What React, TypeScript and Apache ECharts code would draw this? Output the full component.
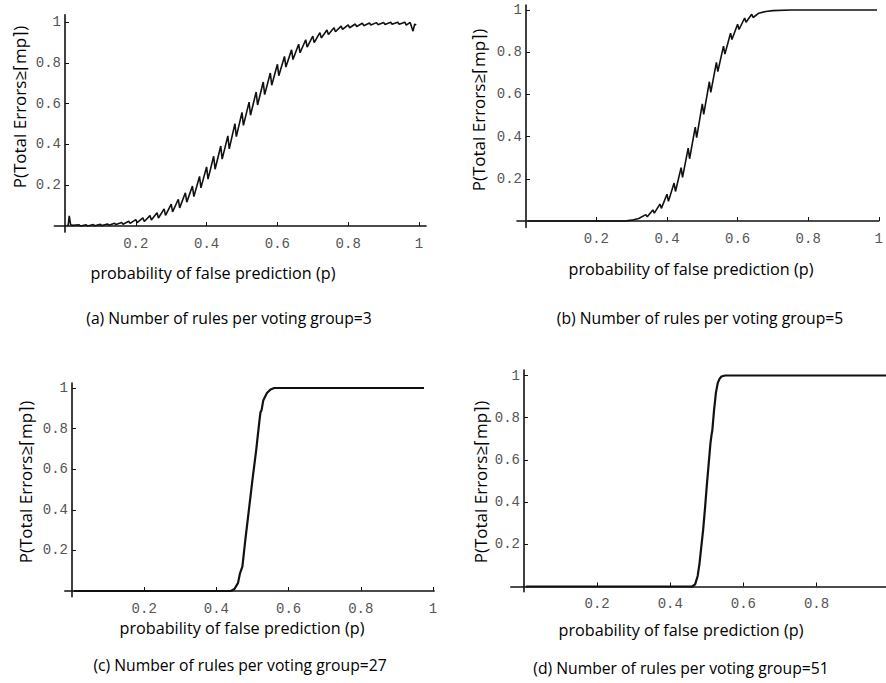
import React, { useEffect, useRef } from "react";
import * as echarts from "echarts";

// ---------- data ----------
const xTickLabels = [0.2, 0.4, 0.6, 0.8, 1];
const xTickLabelsD = [0.2, 0.4, 0.6, 0.8];
const yTickLabels = [0.2, 0.4, 0.6, 0.8, 1];

const yTitle = "P(Total Errors≥⌈mp⌉)";
const xTitle = "probability of false prediction (p)";
const captions = [
  "(a) Number of rules per voting group=3",
  "(b) Number of rules per voting group=5",
  "(c) Number of rules per voting group=27",
  "(d) Number of rules per voting group=51",
];

// (a) m = 3
const curveA: [number, number][] = [
  [0.005, 0.002], [0.009, 0.004], [0.012, 0.05], [0.016, 0.006], [0.022, 0.003],
  [0.04, 0.006], [0.044, 0.0], [0.06, 0.006], [0.064, 0.0],
  [0.08, 0.007], [0.084, 0.001], [0.1, 0.008], [0.104, 0.002],
  [0.12, 0.01], [0.124, 0.004], [0.14, 0.013], [0.144, 0.007],
  [0.16, 0.017], [0.164, 0.009], [0.18, 0.023], [0.184, 0.013],
  [0.2, 0.031], [0.204, 0.017], [0.22, 0.04], [0.224, 0.022],
  [0.24, 0.051], [0.244, 0.029], [0.26, 0.065], [0.264, 0.039],
  [0.28, 0.084], [0.284, 0.052], [0.3, 0.107], [0.304, 0.069],
  [0.32, 0.131], [0.324, 0.089], [0.34, 0.163], [0.344, 0.117],
  [0.36, 0.196], [0.364, 0.144], [0.38, 0.243], [0.384, 0.187],
  [0.4, 0.29], [0.404, 0.23], [0.42, 0.342], [0.424, 0.278],
  [0.44, 0.392], [0.444, 0.328], [0.46, 0.442], [0.464, 0.378],
  [0.48, 0.502], [0.484, 0.438], [0.5, 0.557], [0.504, 0.493],
  [0.52, 0.607], [0.524, 0.543], [0.54, 0.657], [0.544, 0.593],
  [0.56, 0.706], [0.564, 0.644], [0.58, 0.75], [0.584, 0.69],
  [0.6, 0.793], [0.604, 0.737], [0.62, 0.831], [0.624, 0.779],
  [0.64, 0.864], [0.644, 0.816], [0.66, 0.891], [0.664, 0.849],
  [0.68, 0.913], [0.684, 0.877], [0.7, 0.931], [0.704, 0.899],
  [0.72, 0.948], [0.724, 0.922], [0.74, 0.961], [0.744, 0.939],
  [0.76, 0.972], [0.764, 0.952], [0.78, 0.98], [0.784, 0.964],
  [0.8, 0.986], [0.804, 0.972], [0.82, 0.99], [0.824, 0.978],
  [0.84, 0.994], [0.844, 0.982], [0.86, 0.995], [0.864, 0.985],
  [0.88, 0.997], [0.884, 0.987], [0.9, 0.998], [0.904, 0.988],
  [0.92, 0.999], [0.924, 0.989], [0.94, 0.999], [0.944, 0.989],
  [0.96, 0.999], [0.964, 0.985], [0.975, 0.998], [0.983, 0.955],
  [0.988, 0.99], [0.992, 0.985],
];

// (b) m = 5
const curveB: [number, number][] = [
  [0.005, 0.0], [0.28, 0.0], [0.3, 0.004], [0.32, 0.012],
  [0.34, 0.03], [0.344, 0.02], [0.36, 0.0525], [0.364, 0.0375],
  [0.38, 0.08], [0.384, 0.06], [0.4, 0.127], [0.404, 0.093],
  [0.42, 0.18], [0.424, 0.14], [0.44, 0.253], [0.444, 0.207],
  [0.46, 0.345], [0.464, 0.295], [0.48, 0.445], [0.484, 0.395],
  [0.5, 0.555], [0.504, 0.505], [0.52, 0.66], [0.524, 0.61],
  [0.54, 0.752], [0.544, 0.708], [0.56, 0.829], [0.564, 0.791],
  [0.58, 0.89], [0.584, 0.86], [0.6, 0.9325], [0.604, 0.9075],
  [0.62, 0.962], [0.624, 0.942], [0.64, 0.9795], [0.644, 0.9645],
  [0.66, 0.985], [0.68, 0.993], [0.7, 0.997], [0.75, 1.0], [0.995, 1.0],
];

// (c) m = 27
const curveC: [number, number][] = [
  [0.005, 0.0], [0.44, 0.0], [0.45, 0.01], [0.46, 0.04], [0.465, 0.085],
  [0.468, 0.1], [0.472, 0.12], [0.48, 0.25], [0.49, 0.4], [0.5, 0.55],
  [0.51, 0.69], [0.518, 0.82], [0.522, 0.88], [0.525, 0.89], [0.53, 0.94],
  [0.54, 0.975], [0.55, 0.993], [0.56, 1.0], [0.975, 1.0],
];

// (d) m = 51
const curveD: [number, number][] = [
  [0.005, 0.0], [0.46, 0.0], [0.468, 0.01], [0.475, 0.05], [0.48, 0.11],
  [0.485, 0.19], [0.49, 0.27], [0.495, 0.37], [0.5, 0.48], [0.505, 0.58],
  [0.51, 0.68], [0.513, 0.72], [0.515, 0.74], [0.52, 0.84], [0.525, 0.92],
  [0.53, 0.965], [0.535, 0.985], [0.54, 0.995], [0.55, 1.0], [0.99, 1.0],
];

// ---------- layout (pixels) ----------
type Panel = {
  x0: number; sx: number; xmin: number; xmax: number;
  y0: number; sy: number; ymin: number; ymax: number;
  xLabels: number[]; data: [number, number][]; lw: number;
  yt: [number, number]; xt: [number, number]; cap: [number, number];
};

const panels: Panel[] = [
  { x0: 65, sx: 354, xmin: -0.03, xmax: 1.02, y0: 226, sy: 204, ymin: -0.03, ymax: 1.035,
    xLabels: xTickLabels, data: curveA, lw: 1.6, yt: [19, 107], xt: [213, 273], cap: [229, 318] },
  { x0: 526, sx: 361, xmin: -0.025, xmax: 1.0, y0: 221, sy: 211, ymin: -0.03, ymax: 1.024,
    xLabels: xTickLabels, data: curveB, lw: 1.6, yt: [478, 110], xt: [691, 269], cap: [700, 318] },
  { x0: 72, sx: 361, xmin: -0.02, xmax: 1.003, y0: 591, sy: 203, ymin: -0.028, ymax: 1.025,
    xLabels: xTickLabels, data: curveC, lw: 2.2, yt: [25, 482], xt: [242, 628], cap: [240, 665] },
  { x0: 524, sx: 366, xmin: -0.036, xmax: 0.99, y0: 586.5, sy: 211, ymin: -0.025, ymax: 1.026,
    xLabels: xTickLabelsD, data: curveD, lw: 2.2, yt: [480, 482], xt: [681, 630], cap: [681, 668] },
];

const MONO = "'Liberation Mono', 'DejaVu Sans Mono', monospace";
const SANS = "'Open Sans', Lato, 'Noto Sans', sans-serif";

export default function App() {
  const ref = useRef<HTMLDivElement>(null);
  useEffect(() => {
    if (!ref.current) return;
    const chart = echarts.init(ref.current, undefined, { renderer: "svg" });
    const lineStyle = { color: "#111", width: 1.6 };
    const grid = panels.map((p) => ({
      left: p.x0 + p.xmin * p.sx,
      top: p.y0 - p.ymax * p.sy,
      width: (p.xmax - p.xmin) * p.sx,
      height: (p.ymax - p.ymin) * p.sy,
      containLabel: false,
    }));
    const fmt = (v: number) => String(Math.round(v * 10) / 10);
    const xAxis = panels.map((p, i) => ({
      type: "value",
      gridIndex: i,
      min: p.xmin,
      max: p.xmax,
      axisLine: { show: true, onZero: true, lineStyle },
      splitLine: { show: false },
      axisTick: { show: true, inside: true, length: 4, customValues: p.xLabels, lineStyle: { color: "#111", width: 1 } },
      axisLabel: {
        show: true,
        customValues: p.xLabels,
        margin: 5,
        color: "#555",
        fontFamily: MONO,
        fontSize: 14,
        formatter: fmt,
      },
    }));
    const yAxis = panels.map((p, i) => ({
      type: "value",
      gridIndex: i,
      min: p.ymin,
      max: p.ymax,
      // place the y axis at x = 0 (inside the grid's left edge)
      offset: p.xmin * p.sx,
      axisLine: { show: true, onZero: false, lineStyle },
      splitLine: { show: false },
      axisTick: { show: true, inside: true, length: 4, customValues: yTickLabels, lineStyle: { color: "#111", width: 1 } },
      axisLabel: {
        show: true,
        customValues: yTickLabels,
        margin: 4,
        color: "#555",
        fontFamily: MONO,
        fontSize: 14,
        formatter: fmt,
      },
    }));
    const series = panels.map((p, i) => ({
      type: "line",
      xAxisIndex: i,
      yAxisIndex: i,
      data: p.data,
      showSymbol: false,
      symbol: "none",
      lineStyle: { color: "#111", width: p.lw },
      clip: true,
    }));
    const txt = (text: string, x: number, y: number, size: number, rot = 0) => ({
      type: "text",
      x,
      y,
      rotation: rot,
      style: {
        text, x: 0, y: 0, fill: "#000",
        font: `${size}px ${SANS}`,
        align: "center", verticalAlign: "middle",
        textAlign: "center", textVerticalAlign: "middle",
      },
    });
    const graphic: any[] = [];
    panels.forEach((p, i) => {
      graphic.push(txt(yTitle, p.yt[0], p.yt[1], 17, Math.PI / 2));
      graphic.push(txt(xTitle, p.xt[0], p.xt[1], 16.2));
      graphic.push(txt(captions[i], p.cap[0], p.cap[1], 15.7));
    });
    chart.setOption({
      animation: false,
      backgroundColor: "#fff",
      grid,
      xAxis,
      yAxis,
      series,
      graphic,
    } as any);
    return () => chart.dispose();
  }, []);
  return (
    <div
      ref={ref}
      style={{ position: "fixed", left: 0, top: 0, width: 886, height: 683, background: "#fff" }}
    />
  );
}
